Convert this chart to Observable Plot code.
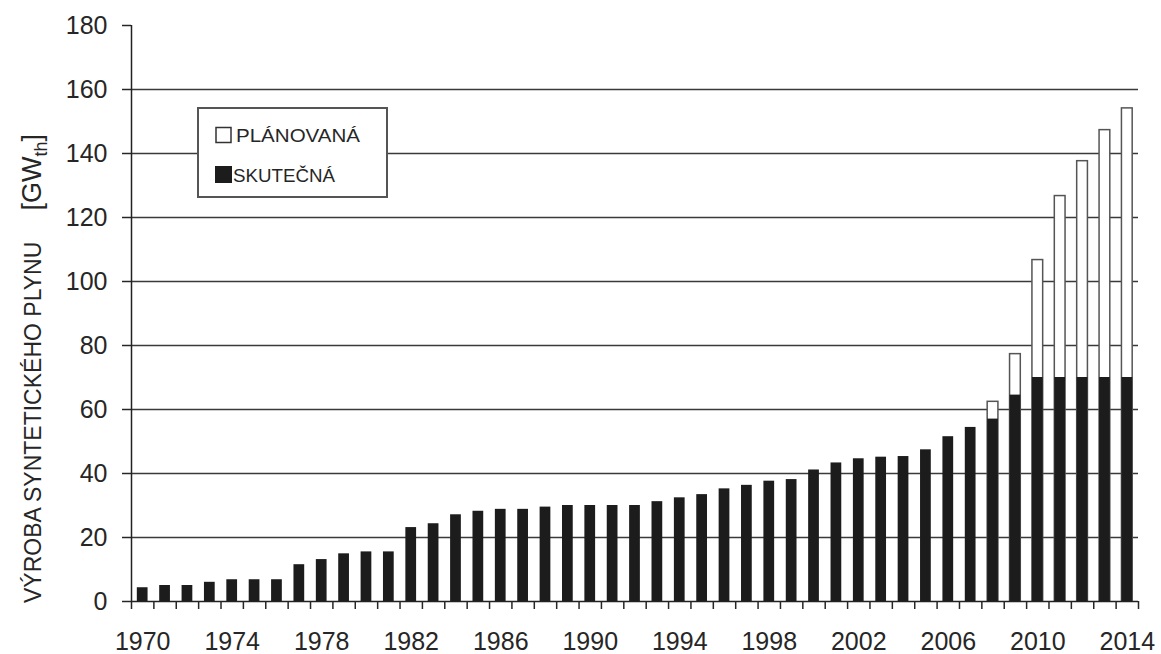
<!DOCTYPE html>
<html>
<head>
<meta charset="utf-8">
<script src="https://cdn.jsdelivr.net/npm/d3@7"></script>
<script src="https://cdn.jsdelivr.net/npm/@observablehq/plot@0.6"></script>
<style>
  html, body { margin: 0; padding: 0; background: #fff; }
  #chart svg { display: block; }
</style>
</head>
<body>
<div id="chart"></div>
<script>
// ---- data ----
const years = [1970,1971,1972,1973,1974,1975,1976,1977,1978,1979,
               1980,1981,1982,1983,1984,1985,1986,1987,1988,1989,
               1990,1991,1992,1993,1994,1995,1996,1997,1998,1999,
               2000,2001,2002,2003,2004,2005,2006,2007,2008,2009,
               2010,2011,2012,2013,2014];
// SKUTEČNÁ (actual)
const actual = [4.3,5.0,5.0,6.0,6.8,6.8,6.8,11.5,13.1,14.9,
                15.5,15.5,23.1,24.3,27.1,28.2,28.8,28.8,29.5,30.0,
                30.0,30.0,30.0,31.2,32.4,33.4,35.2,36.3,37.6,38.1,
                41.1,43.3,44.6,45.1,45.3,47.4,51.5,54.4,57.0,64.5,
                70.0,70.0,70.0,70.0,70.0];
// PLÁNOVANÁ (planned total)
const planYears = [2008,2009,2010,2011,2012,2013,2014];
const planned = [62.4,77.3,106.7,126.7,137.6,147.3,154.1];

const yTicks = [0,20,40,60,80,100,120,140,160,180];
const gridTicks = [20,40,60,80,100,120,140,160];
const labelYears = [1970,1974,1978,1982,1986,1990,1994,1998,2002,2006,2010,2014];
const legendLabels = ["PLÁNOVANÁ","SKUTEČNÁ"];
const yLabel = "VÝROBA SYNTETICKÉHO PLYNU";

// ---- derived tables ----
const data = years.map((year, i) => ({year, actual: actual[i]}));
const planData = planYears.map((year, i) => ({year, planned: planned[i]}));
const boundaries = years.map(y => y - 0.5).concat([years[years.length - 1] + 0.5]);
const half = 0.24;

const chart = Plot.plot({
  width: 1161,
  height: 654,
  marginLeft: 131,
  marginRight: 23,
  marginTop: 25,
  marginBottom: 53,
  x: {domain: [years[0] - 0.5, years[years.length - 1] + 0.5]},
  y: {domain: [0, 180]},
  style: {fontFamily: "'Liberation Sans', Arial, sans-serif", fontSize: "25px", color: "#262626", background: "white"},
  marks: [
    Plot.gridY(gridTicks, {stroke: "#3a3a3a", strokeOpacity: 1, strokeWidth: 1.5}),
    Plot.rect(planData, {x1: d => d.year - half, x2: d => d.year + half, y1: 0, y2: "planned",
                         fill: "white", stroke: "#555", strokeWidth: 1.5}),
    Plot.rect(data, {x1: d => d.year - half, x2: d => d.year + half, y1: 0, y2: "actual", fill: "#1c1c1c"}),
    Plot.ruleY([0], {stroke: "#222", strokeWidth: 1.5}),
    Plot.ruleX([years[0] - 0.5], {y1: 0, y2: 180, stroke: "#222", strokeWidth: 1.5}),
    Plot.axisY({ticks: yTicks, tickSize: 9, tickPadding: 15, label: null, tickFormat: d => String(d), strokeWidth: 1.5}),
    Plot.axisX({ticks: boundaries, tickSize: 8, tickFormat: () => "", label: null, strokeWidth: 1.5}),
    Plot.axisX({ticks: labelYears, tickSize: 0, tickPadding: 31, tickFormat: d => String(d), label: null})
  ]
});

document.getElementById("chart").appendChild(chart);

// ---- legend & axis title ----
const svg = d3.select(chart);
const font = "'Liberation Sans', Arial, sans-serif";
const lg = svg.append("g").attr("text-anchor", "start");
lg.append("rect").attr("x", 198).attr("y", 108).attr("width", 189).attr("height", 89)
  .attr("fill", "white").attr("stroke", "#555").attr("stroke-width", 2);
lg.append("rect").attr("x", 216).attr("y", 127.5).attr("width", 15).attr("height", 15)
  .attr("fill", "white").attr("stroke", "#333").attr("stroke-width", 1.5);
lg.append("text").attr("x", 236).attr("y", 142).attr("font-family", font).attr("font-size", 18)
  .attr("text-anchor", "start")
  .attr("fill", "#262626").attr("textLength", 124).attr("lengthAdjust", "spacingAndGlyphs").text(legendLabels[0]);
lg.append("rect").attr("x", 215).attr("y", 166).attr("width", 17).attr("height", 17).attr("fill", "#1c1c1c");
lg.append("text").attr("x", 233).attr("y", 182).attr("font-family", font).attr("font-size", 18)
  .attr("text-anchor", "start")
  .attr("fill", "#262626").attr("textLength", 102).attr("lengthAdjust", "spacingAndGlyphs").text(legendLabels[1]);

svg.append("text")
  .attr("transform", "translate(41,603) rotate(-90)")
  .attr("font-family", font).attr("font-size", 23).attr("fill", "#262626")
  .attr("text-anchor", "start")
  .text(yLabel);

const unit = svg.append("text")
  .attr("transform", "translate(41,134) rotate(-90)")
  .attr("font-family", font).attr("font-size", 27).attr("fill", "#262626")
  .attr("text-anchor", "end");
unit.append("tspan").text("[GW");
unit.append("tspan").attr("font-size", 18).attr("dy", 6).text("th");
unit.append("tspan").attr("dy", -6).text("]");
</script>
</body>
</html>
